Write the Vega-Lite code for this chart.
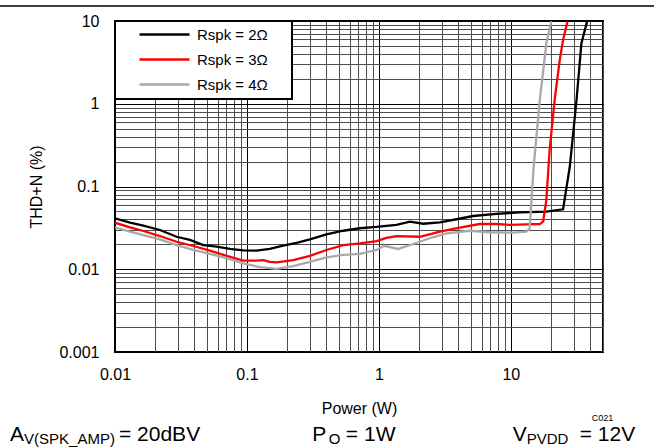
{
  "$schema": "https://vega.github.io/schema/vega-lite/v6.json",
  "width": 488,
  "height": 331,
  "autosize": {"type": "none"},
  "padding": {"left": 115, "top": 21, "right": 51, "bottom": 95},
  "background": "white",
  "config": {
    "font": "Liberation Sans",
    "view": {"stroke": "black", "strokeWidth": 2},
    "axis": {
      "ticks": false,
      "domain": false,
      "grid": true,
      "gridWidth": 1,
      "gridOpacity": 1,
      "labelFont": "Liberation Sans",
      "labelFontSize": 16,
      "labelColor": "black",
      "titleFont": "Liberation Sans",
      "titleFontSize": 16,
      "titleFontWeight": "normal",
      "titleColor": "black",
      "labelOverlap": false,
      "labelBound": false
    },
    "legend": {
      "orient": "top-left",
      "offset": 0,
      "fillColor": "white",
      "strokeColor": "black",
      "strokeWidth": 2,
      "padding": 6,
      "symbolType": "M-5,0H5",
      "symbolSize": 100,
      "symbolStrokeWidth": 2.5,
      "symbolOffset": 36,
      "labelOffset": 25,
      "labelFont": "Liberation Sans",
      "labelFontSize": 15,
      "labelColor": "black",
      "rowPadding": 9
    }
  },
  "datasets": {
    "curves": [
      {"series": "Rspk = 2Ω", "p": 0.01, "thd": 0.0413},
      {"series": "Rspk = 2Ω", "p": 0.013, "thd": 0.0365},
      {"series": "Rspk = 2Ω", "p": 0.0164, "thd": 0.0336},
      {"series": "Rspk = 2Ω", "p": 0.0219, "thd": 0.0298},
      {"series": "Rspk = 2Ω", "p": 0.0293, "thd": 0.0247},
      {"series": "Rspk = 2Ω", "p": 0.037, "thd": 0.0226},
      {"series": "Rspk = 2Ω", "p": 0.0467, "thd": 0.0196},
      {"series": "Rspk = 2Ω", "p": 0.0589, "thd": 0.0188},
      {"series": "Rspk = 2Ω", "p": 0.0743, "thd": 0.0176},
      {"series": "Rspk = 2Ω", "p": 0.0938, "thd": 0.0169},
      {"series": "Rspk = 2Ω", "p": 0.118, "thd": 0.0168},
      {"series": "Rspk = 2Ω", "p": 0.149, "thd": 0.0176},
      {"series": "Rspk = 2Ω", "p": 0.188, "thd": 0.0193},
      {"series": "Rspk = 2Ω", "p": 0.238, "thd": 0.0209},
      {"series": "Rspk = 2Ω", "p": 0.3, "thd": 0.023},
      {"series": "Rspk = 2Ω", "p": 0.401, "thd": 0.0264},
      {"series": "Rspk = 2Ω", "p": 0.537, "thd": 0.0292},
      {"series": "Rspk = 2Ω", "p": 0.718, "thd": 0.0313},
      {"series": "Rspk = 2Ω", "p": 0.961, "thd": 0.0325},
      {"series": "Rspk = 2Ω", "p": 1.14, "thd": 0.0335},
      {"series": "Rspk = 2Ω", "p": 1.36, "thd": 0.0343},
      {"series": "Rspk = 2Ω", "p": 1.72, "thd": 0.0376},
      {"series": "Rspk = 2Ω", "p": 2.17, "thd": 0.0355},
      {"series": "Rspk = 2Ω", "p": 2.9, "thd": 0.0369},
      {"series": "Rspk = 2Ω", "p": 3.88, "thd": 0.0402},
      {"series": "Rspk = 2Ω", "p": 5.18, "thd": 0.044},
      {"series": "Rspk = 2Ω", "p": 7.79, "thd": 0.0466},
      {"series": "Rspk = 2Ω", "p": 11.7, "thd": 0.0488},
      {"series": "Rspk = 2Ω", "p": 18.6, "thd": 0.0496},
      {"series": "Rspk = 2Ω", "p": 24.9, "thd": 0.053},
      {"series": "Rspk = 2Ω", "p": 28.0, "thd": 0.173},
      {"series": "Rspk = 2Ω", "p": 31.5, "thd": 1.11},
      {"series": "Rspk = 2Ω", "p": 34.3, "thd": 5.38},
      {"series": "Rspk = 2Ω", "p": 37.9, "thd": 9.9},
      {"series": "Rspk = 3Ω", "p": 0.01, "thd": 0.0365},
      {"series": "Rspk = 3Ω", "p": 0.013, "thd": 0.0321},
      {"series": "Rspk = 3Ω", "p": 0.0164, "thd": 0.029},
      {"series": "Rspk = 3Ω", "p": 0.0219, "thd": 0.0252},
      {"series": "Rspk = 3Ω", "p": 0.0293, "thd": 0.0215},
      {"series": "Rspk = 3Ω", "p": 0.0392, "thd": 0.0191},
      {"series": "Rspk = 3Ω", "p": 0.0524, "thd": 0.0168},
      {"series": "Rspk = 3Ω", "p": 0.0702, "thd": 0.0145},
      {"series": "Rspk = 3Ω", "p": 0.0938, "thd": 0.0127},
      {"series": "Rspk = 3Ω", "p": 0.118, "thd": 0.0127},
      {"series": "Rspk = 3Ω", "p": 0.133, "thd": 0.0129},
      {"series": "Rspk = 3Ω", "p": 0.149, "thd": 0.0123},
      {"series": "Rspk = 3Ω", "p": 0.168, "thd": 0.0121},
      {"series": "Rspk = 3Ω", "p": 0.224, "thd": 0.0129},
      {"series": "Rspk = 3Ω", "p": 0.3, "thd": 0.0145},
      {"series": "Rspk = 3Ω", "p": 0.401, "thd": 0.0171},
      {"series": "Rspk = 3Ω", "p": 0.537, "thd": 0.0196},
      {"series": "Rspk = 3Ω", "p": 0.718, "thd": 0.0206},
      {"series": "Rspk = 3Ω", "p": 0.961, "thd": 0.0219},
      {"series": "Rspk = 3Ω", "p": 1.14, "thd": 0.024},
      {"series": "Rspk = 3Ω", "p": 1.36, "thd": 0.0252},
      {"series": "Rspk = 3Ω", "p": 2.05, "thd": 0.0247},
      {"series": "Rspk = 3Ω", "p": 2.9, "thd": 0.0284},
      {"series": "Rspk = 3Ω", "p": 4.11, "thd": 0.0318},
      {"series": "Rspk = 3Ω", "p": 5.82, "thd": 0.0352},
      {"series": "Rspk = 3Ω", "p": 7.79, "thd": 0.0352},
      {"series": "Rspk = 3Ω", "p": 9.82, "thd": 0.0343},
      {"series": "Rspk = 3Ω", "p": 13.1, "thd": 0.0349},
      {"series": "Rspk = 3Ω", "p": 16.6, "thd": 0.0352},
      {"series": "Rspk = 3Ω", "p": 17.6, "thd": 0.038},
      {"series": "Rspk = 3Ω", "p": 18.6, "thd": 0.0687},
      {"series": "Rspk = 3Ω", "p": 19.7, "thd": 0.276},
      {"series": "Rspk = 3Ω", "p": 21.5, "thd": 1.11},
      {"series": "Rspk = 3Ω", "p": 23.5, "thd": 3.38},
      {"series": "Rspk = 3Ω", "p": 24.9, "thd": 5.89},
      {"series": "Rspk = 3Ω", "p": 26.9, "thd": 9.9},
      {"series": "Rspk = 4Ω", "p": 0.01, "thd": 0.0321},
      {"series": "Rspk = 4Ω", "p": 0.013, "thd": 0.0284},
      {"series": "Rspk = 4Ω", "p": 0.0164, "thd": 0.0259},
      {"series": "Rspk = 4Ω", "p": 0.0219, "thd": 0.023},
      {"series": "Rspk = 4Ω", "p": 0.0293, "thd": 0.0196},
      {"series": "Rspk = 4Ω", "p": 0.0392, "thd": 0.0171},
      {"series": "Rspk = 4Ω", "p": 0.0524, "thd": 0.0153},
      {"series": "Rspk = 4Ω", "p": 0.0702, "thd": 0.0136},
      {"series": "Rspk = 4Ω", "p": 0.0938, "thd": 0.0118},
      {"series": "Rspk = 4Ω", "p": 0.125, "thd": 0.0106},
      {"series": "Rspk = 4Ω", "p": 0.168, "thd": 0.0101},
      {"series": "Rspk = 4Ω", "p": 0.224, "thd": 0.0109},
      {"series": "Rspk = 4Ω", "p": 0.3, "thd": 0.0123},
      {"series": "Rspk = 4Ω", "p": 0.401, "thd": 0.0139},
      {"series": "Rspk = 4Ω", "p": 0.537, "thd": 0.0149},
      {"series": "Rspk = 4Ω", "p": 0.718, "thd": 0.0153},
      {"series": "Rspk = 4Ω", "p": 0.961, "thd": 0.0171},
      {"series": "Rspk = 4Ω", "p": 1.1, "thd": 0.0192},
      {"series": "Rspk = 4Ω", "p": 1.4, "thd": 0.0176},
      {"series": "Rspk = 4Ω", "p": 1.82, "thd": 0.0202},
      {"series": "Rspk = 4Ω", "p": 2.43, "thd": 0.0237},
      {"series": "Rspk = 4Ω", "p": 3.26, "thd": 0.0272},
      {"series": "Rspk = 4Ω", "p": 4.89, "thd": 0.0292},
      {"series": "Rspk = 4Ω", "p": 6.93, "thd": 0.028},
      {"series": "Rspk = 4Ω", "p": 10.4, "thd": 0.0277},
      {"series": "Rspk = 4Ω", "p": 13.1, "thd": 0.0284},
      {"series": "Rspk = 4Ω", "p": 13.9, "thd": 0.031},
      {"series": "Rspk = 4Ω", "p": 14.9, "thd": 0.173},
      {"series": "Rspk = 4Ω", "p": 16.6, "thd": 1.11},
      {"series": "Rspk = 4Ω", "p": 18.6, "thd": 5.38},
      {"series": "Rspk = 4Ω", "p": 20.3, "thd": 9.9}
    ]
  },
  "layer": [
    {
      "data": {"name": "curves"},
      "mark": {"type": "line", "strokeWidth": 2.3, "clip": true},
      "encoding": {
        "x": {
          "field": "p", "type": "quantitative", "title": "Power (W)",
          "scale": {"type": "log", "domain": [0.01, 50], "nice": false},
          "axis": {
            "title": "Power (W)",
            "values": [0.01,0.02,0.03,0.04,0.05,0.06,0.07,0.08,0.09,0.1,0.2,0.3,0.4,0.5,0.6,0.7,0.8,0.9,1,2,3,4,5,6,7,8,9,10,20,30,40,50],
            "format": "~g",
            "labelExpr": "indexof([0.01,0.1,1,10], datum.value) >= 0 ? datum.label : ''",
            "labelPadding": 14,
            "titlePadding": 18,
            "labelFlush": false,
            "gridColor": {"condition": {"test": "indexof([0.01,0.1,1,10], datum.value) >= 0", "value": "#000000"}, "value": "#4d4d4d"}
          }
        },
        "y": {
          "field": "thd", "type": "quantitative", "title": "THD+N (%)",
          "scale": {"type": "log", "domain": [0.001, 10], "nice": false},
          "axis": {
            "title": "THD+N (%)",
            "values": [0.001,0.002,0.003,0.004,0.005,0.006,0.007,0.008,0.009,0.01,0.02,0.03,0.04,0.05,0.06,0.07,0.08,0.09,0.1,0.2,0.3,0.4,0.5,0.6,0.7,0.8,0.9,1,2,3,4,5,6,7,8,9,10],
            "format": "~g",
            "labelExpr": "indexof([0.001,0.01,0.1,1,10], datum.value) >= 0 ? datum.label : ''",
            "labelPadding": 16,
            "titlePadding": 14,
            "labelFlush": false,
            "gridColor": {"condition": {"test": "indexof([0.001,0.01,0.1,1,10], datum.value) >= 0", "value": "#000000"}, "value": "#4d4d4d"}
          }
        },
        "color": {
          "field": "series", "type": "nominal",
          "scale": {"domain": ["Rspk = 2Ω", "Rspk = 3Ω", "Rspk = 4Ω"], "range": ["#000000", "#ff0000", "#a9a9a9"]},
          "legend": {"title": "\u00a0", "titleOrient": "right", "titlePadding": 18, "titleFontSize": 15}
        }
      }
    },
    {
      "data": {"values": [{"note": "top"}]},
      "mark": {"type": "rule", "color": "black", "strokeWidth": 1.5},
      "encoding": {
        "x": {"datum": 0.0001, "type": "quantitative", "title": "Power (W)", "scale": {"type": "log", "domain": [0.01, 50], "nice": false}},
        "x2": {"datum": 1000},
        "y": {"datum": 15.2, "type": "quantitative", "title": "THD+N (%)", "scale": {"type": "log", "domain": [0.001, 10], "nice": false}}
      }
    },
    {
      "data": {"values": [{"note": "A"}]},
      "mark": {"type": "text", "align": "left", "baseline": "alphabetic", "fontSize": 21, "color": "black"},
      "encoding": {
        "x": {"datum": 0.001603, "type": "quantitative", "title": "Power (W)", "scale": {"type": "log", "domain": [0.01, 50], "nice": false}},
        "y": {"datum": 0.0000829, "type": "quantitative", "title": "THD+N (%)", "scale": {"type": "log", "domain": [0.001, 10], "nice": false}},
        "text": {"field": "note"}
      }
    },
    {
      "data": {"values": [{"note": "V(SPK_AMP)"}]},
      "mark": {"type": "text", "align": "left", "baseline": "alphabetic", "fontSize": 15, "color": "black"},
      "encoding": {
        "x": {"datum": 0.002046, "type": "quantitative", "title": "Power (W)", "scale": {"type": "log", "domain": [0.01, 50], "nice": false}},
        "y": {"datum": 0.0000773, "type": "quantitative", "title": "THD+N (%)", "scale": {"type": "log", "domain": [0.001, 10], "nice": false}},
        "text": {"field": "note"}
      }
    },
    {
      "data": {"values": [{"note": "= 20dBV"}]},
      "mark": {"type": "text", "align": "left", "baseline": "alphabetic", "fontSize": 21, "color": "black"},
      "encoding": {
        "x": {"datum": 0.01072, "type": "quantitative", "title": "Power (W)", "scale": {"type": "log", "domain": [0.01, 50], "nice": false}},
        "y": {"datum": 0.0000829, "type": "quantitative", "title": "THD+N (%)", "scale": {"type": "log", "domain": [0.001, 10], "nice": false}},
        "text": {"field": "note"}
      }
    },
    {
      "data": {"values": [{"note": "P"}]},
      "mark": {"type": "text", "align": "left", "baseline": "alphabetic", "fontSize": 21, "color": "black"},
      "encoding": {
        "x": {"datum": 0.3133, "type": "quantitative", "title": "Power (W)", "scale": {"type": "log", "domain": [0.01, 50], "nice": false}},
        "y": {"datum": 0.0000829, "type": "quantitative", "title": "THD+N (%)", "scale": {"type": "log", "domain": [0.001, 10], "nice": false}},
        "text": {"field": "note"}
      }
    },
    {
      "data": {"values": [{"note": "O"}]},
      "mark": {"type": "text", "align": "left", "baseline": "alphabetic", "fontSize": 15, "color": "black"},
      "encoding": {
        "x": {"datum": 0.4178, "type": "quantitative", "title": "Power (W)", "scale": {"type": "log", "domain": [0.01, 50], "nice": false}},
        "y": {"datum": 0.0000773, "type": "quantitative", "title": "THD+N (%)", "scale": {"type": "log", "domain": [0.001, 10], "nice": false}},
        "text": {"field": "note"}
      }
    },
    {
      "data": {"values": [{"note": "= 1W"}]},
      "mark": {"type": "text", "align": "left", "baseline": "alphabetic", "fontSize": 21, "color": "black"},
      "encoding": {
        "x": {"datum": 0.5623, "type": "quantitative", "title": "Power (W)", "scale": {"type": "log", "domain": [0.01, 50], "nice": false}},
        "y": {"datum": 0.0000829, "type": "quantitative", "title": "THD+N (%)", "scale": {"type": "log", "domain": [0.001, 10], "nice": false}},
        "text": {"field": "note"}
      }
    },
    {
      "data": {"values": [{"note": "V"}]},
      "mark": {"type": "text", "align": "left", "baseline": "alphabetic", "fontSize": 21, "color": "black"},
      "encoding": {
        "x": {"datum": 10.35, "type": "quantitative", "title": "Power (W)", "scale": {"type": "log", "domain": [0.01, 50], "nice": false}},
        "y": {"datum": 0.0000829, "type": "quantitative", "title": "THD+N (%)", "scale": {"type": "log", "domain": [0.001, 10], "nice": false}},
        "text": {"field": "note"}
      }
    },
    {
      "data": {"values": [{"note": "PVDD"}]},
      "mark": {"type": "text", "align": "left", "baseline": "alphabetic", "fontSize": 15, "color": "black"},
      "encoding": {
        "x": {"datum": 13.2, "type": "quantitative", "title": "Power (W)", "scale": {"type": "log", "domain": [0.01, 50], "nice": false}},
        "y": {"datum": 0.0000773, "type": "quantitative", "title": "THD+N (%)", "scale": {"type": "log", "domain": [0.001, 10], "nice": false}},
        "text": {"field": "note"}
      }
    },
    {
      "data": {"values": [{"note": "= 12V"}]},
      "mark": {"type": "text", "align": "left", "baseline": "alphabetic", "fontSize": 21, "color": "black"},
      "encoding": {
        "x": {"datum": 33.3, "type": "quantitative", "title": "Power (W)", "scale": {"type": "log", "domain": [0.01, 50], "nice": false}},
        "y": {"datum": 0.0000829, "type": "quantitative", "title": "THD+N (%)", "scale": {"type": "log", "domain": [0.001, 10], "nice": false}},
        "text": {"field": "note"}
      }
    },
    {
      "data": {"values": [{"note": "C021"}]},
      "mark": {"type": "text", "align": "left", "baseline": "alphabetic", "fontSize": 9, "color": "black"},
      "encoding": {
        "x": {"datum": 41.1, "type": "quantitative", "title": "Power (W)", "scale": {"type": "log", "domain": [0.01, 50], "nice": false}},
        "y": {"datum": 0.0001466, "type": "quantitative", "title": "THD+N (%)", "scale": {"type": "log", "domain": [0.001, 10], "nice": false}},
        "text": {"field": "note"}
      }
    }
  ]
}
